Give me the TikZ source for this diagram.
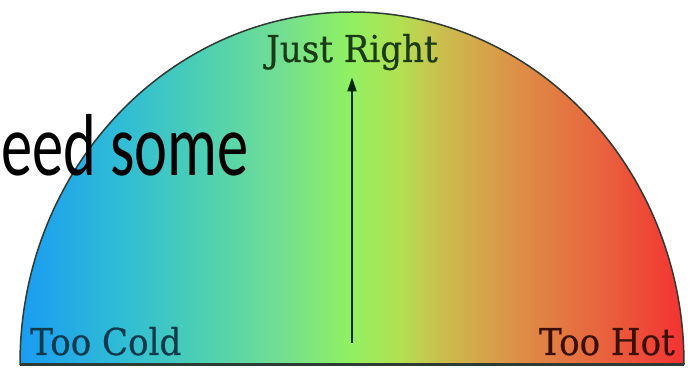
\documentclass[tikz,border=0pt]{standalone}
\usepackage{fontspec}
\setmainfont{Carlito}
\newfontfamily\slab[FakeStretch=0.92,FakeBold=0.6]{DejaVu Serif}
\usetikzlibrary{arrows.meta}
\definecolor{c0}{HTML}{1A9CF2}
\definecolor{c1}{HTML}{2FBCD6}
\definecolor{c2}{HTML}{4CCFB4}
\definecolor{c3}{HTML}{72DE92}
\definecolor{c4}{HTML}{90F062}
\definecolor{c5}{HTML}{B2E052}
\definecolor{c6}{HTML}{CABF4E}
\definecolor{c7}{HTML}{DE8E46}
\definecolor{c8}{HTML}{E8643E}
\definecolor{c9}{HTML}{F43232}
\definecolor{rim}{HTML}{2E3A34}
\definecolor{coldtxt}{HTML}{0E3A4C}
\definecolor{hottxt}{HTML}{3A1008}
\definecolor{righttxt}{HTML}{1A3A18}
\pgfdeclarehorizontalshading{thermo}{100bp}{color(0bp)=(c0); color(25bp)=(c0); color(32.5bp)=(c1); color(38.6bp)=(c2); color(44.6bp)=(c3); color(49.8bp)=(c4); color(53.6bp)=(c5); color(56.6bp)=(c6); color(62.6bp)=(c7); color(68.7bp)=(c8); color(75bp)=(c9); color(100bp)=(c9)}
\tikzset{
  lbl/.style={inner sep=0pt, font=\slab\fontsize{37}{40}\selectfont},
  big/.style={inner sep=0pt, font=\fontsize{88}{96}\selectfont}
}
\begin{document}
\begin{tikzpicture}[x=1pt,y=1pt]
\useasboundingbox (0,0) rectangle (689,369);
\clip (0,0) rectangle (689,369);
\fill[white] (0,0) rectangle (689,369);
\shade[shading=thermo, draw=rim, line width=1.5pt] (20,5) arc[start angle=180, end angle=0, x radius=332pt, y radius=352pt] -- cycle;
\draw[rim, line width=3pt] (20,4) -- (684,4);
\node[lbl, text=coldtxt, anchor=base west] (cold) at (30,14) {Too Cold};
\node[lbl, text=hottxt, anchor=base east] (hot) at (675,14) {Too Hot};
\node[lbl, text=righttxt, anchor=base] (right) at (352,307) {Just Right};
\coordinate (foot) at (352,26);
\draw[black!85!green, line width=2pt, -{Triangle[length=14pt,width=9pt]}, shorten >=7pt] (foot) -- (right.south);
\node[big, anchor=base west] (need) at (1,193) {\scalebox{0.71}[1]{eed some}};
\end{tikzpicture}
\end{document}
